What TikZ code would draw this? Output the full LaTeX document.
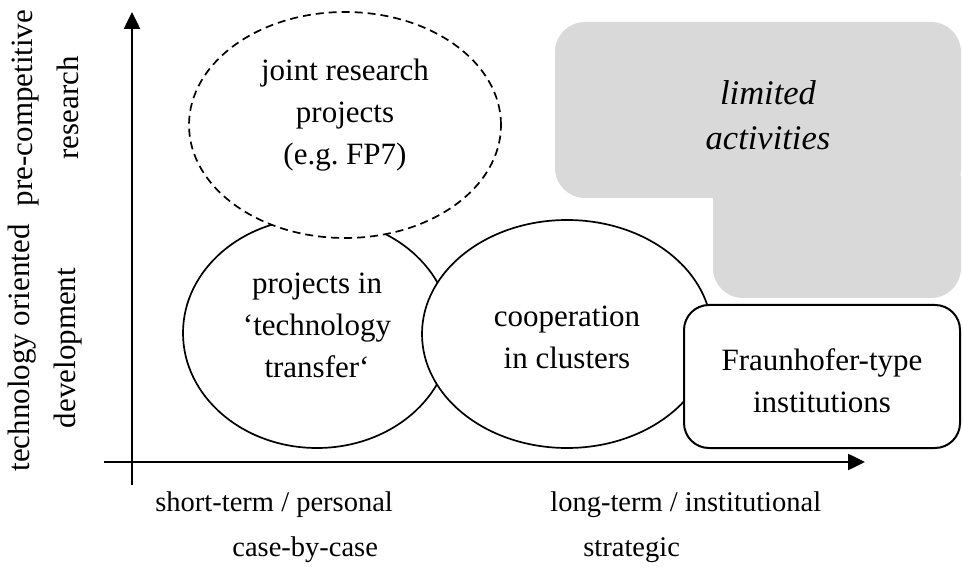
\documentclass[tikz,border=0pt]{standalone}
\usepackage{fontspec}
\setmainfont{Liberation Serif}
\usetikzlibrary{shapes.geometric,arrows.meta}
\definecolor{limgray}{HTML}{D9D9D9}

\begin{document}
\begin{tikzpicture}
  [x=0.5pt,y=-0.5pt,
   every node/.style={font=\fontsize{15.5}{21}\selectfont,align=center,inner sep=0pt},
   oval/.style={ellipse,draw,fill=white,line width=0.85pt},
   ibox/.style={draw,fill=white,rounded corners=12.5pt,line width=1pt},
   axis/.style={line width=1.25pt,-{Triangle[length=8.5pt,width=8pt]}},
   axlabel/.style={font=\fontsize{14.25}{23}\selectfont},
   side/.style={rotate=90,font=\fontsize{15.5}{23}\selectfont}]
  \useasboundingbox (0,0) rectangle (963,571);
  \fill[limgray,rounded corners=15pt] (555,22) rectangle (961,198);
  \fill[limgray,rounded corners=15pt] (713,150) rectangle (961,298);
  \node[font=\fontsize{17.25}{22.5}\selectfont\itshape] (lim) at (768,115) {limited\\activities};
  \node[oval,minimum width=134pt,minimum height=115pt] (tt) at (317,333) {};
  \node (tttxt) at ([yshift=4pt]tt.center) {projects in\\‘technology\\transfer‘};
  \node[oval,minimum width=145pt,minimum height=114pt] (cc) at (567,334) {};
  \node (cctxt) at ([yshift=-1.5pt]cc.center) {cooperation\\in clusters};
  \node[oval,dash pattern=on 4pt off 2.5pt,minimum width=156pt,minimum height=113pt] (jr) at (345,125) {};
  \node (jrtxt) at ([yshift=5pt]jr.center) {joint research\\projects\\(e.g.\ FP7)};
  \node[ibox,minimum width=138pt,minimum height=71.5pt] (fh) at (822,376.5) {};
  \node (fhtxt) at ([yshift=-2pt]fh.center) {Fraunhofer-type\\institutions};
  \coordinate (ybot) at (132,485);
  \coordinate (ytop) at (132,12);
  \coordinate (xlft) at (104,462);
  \coordinate (xrgt) at (865,462);
  \draw[axis] (ybot) -- (ytop);
  \draw[axis] (xlft) -- (xrgt);
  \node[side] (pcr) at (45,108) {pre-competitive\\research};
  \node[side] (tod) at (45,348) {technology oriented\\development};
  \node[axlabel,anchor=west] (stp) at (155,505) {short-term / personal};
  \node[axlabel,anchor=west] (cbc) at (232,550) {case-by-case};
  \node[axlabel,anchor=west] (lti) at (550,505) {long-term / institutional};
  \node[axlabel,anchor=west] (str) at (583,550) {strategic};
\end{tikzpicture}
\end{document}
